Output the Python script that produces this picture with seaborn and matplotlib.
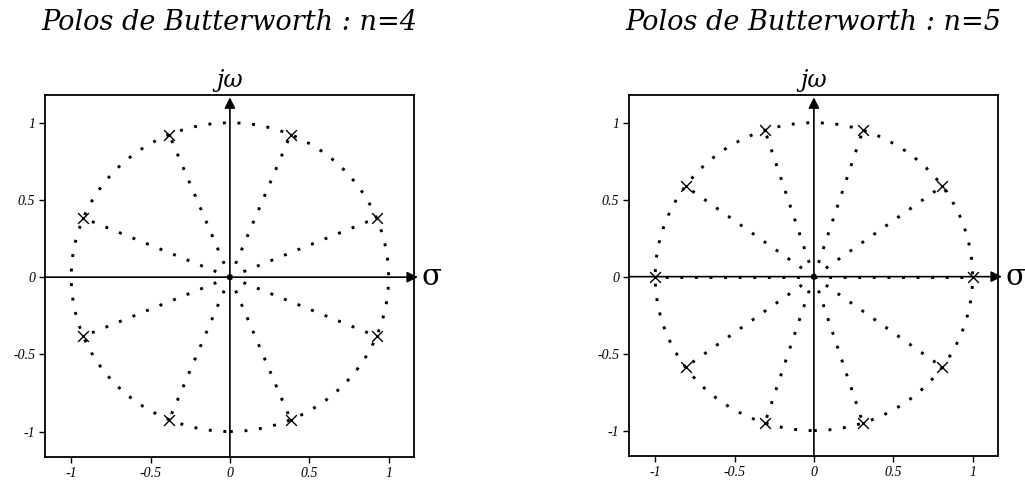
import matplotlib
matplotlib.use("Agg")
import matplotlib.pyplot as plt
from matplotlib.patches import Circle
import numpy as np
import pandas as pd
import seaborn as sns

sns.set_style("white")
plt.rcParams["font.family"] = ["Liberation Serif", "DejaVu Serif"]
plt.rcParams["text.color"] = "black"
plt.rcParams["xtick.color"] = "black"
plt.rcParams["ytick.color"] = "black"

# Pole locations (real part, imaginary part) for each filter order
poles4_re = [0.924, 0.383, -0.383, -0.924, -0.924, -0.383, 0.383, 0.924]
poles4_im = [0.383, 0.924, 0.924, 0.383, -0.383, -0.924, -0.924, -0.383]

poles5_re = [1.0, 0.809, 0.309, -0.309, -0.809, -1.0, -0.809, -0.309, 0.309, 0.809]
poles5_im = [0.0, 0.588, 0.951, 0.951, 0.588, 0.0, -0.588, -0.951, -0.951, -0.588]

titles = ["Polos de Butterworth : n=4", "Polos de Butterworth : n=5"]
tick_vals = [-1, -0.5, 0, 0.5, 1]
tick_labels = ["-1", "-0.5", "0", "0.5", "1"]

DOT = (0, (1, 4))
LW = 2.1
W, H = 1025, 484
fig = plt.figure(figsize=(W / 100, H / 100), dpi=100)

boxes = [(45, 95, 414, 457), (629, 95, 998, 456)]


def rays_frame(re, im):
    rows = []
    for k, (x, y) in enumerate(zip(re, im)):
        rows.append({"re": 0.0, "im": 0.0, "ray": k})
        rows.append({"re": x, "im": y, "ray": k})
    return pd.DataFrame(rows)


for (x0, y0, x1, y1), re, im, title in zip(
        boxes, [poles4_re, poles5_re], [poles4_im, poles5_im], titles):
    ax = fig.add_axes([x0 / W, 1 - y1 / H, (x1 - x0) / W, (y1 - y0) / H])
    ax.set_xlim(-1.165, 1.16)
    ax.set_ylim(-1.165, 1.18)

    # dotted unit circle
    ax.add_patch(Circle((0, 0), 1, fill=False, edgecolor="black",
                        linewidth=LW, linestyle=DOT))

    # dotted rays from the origin to every pole
    rays = rays_frame(re, im)
    sns.lineplot(data=rays, x="re", y="im", units="ray", estimator=None,
                 sort=False, color="black", linewidth=LW, linestyle=DOT,
                 ax=ax, legend=False)

    # poles
    poles = pd.DataFrame({"re": re, "im": im})
    sns.scatterplot(data=poles, x="re", y="im", marker="x", s=60,
                    color="black", linewidth=1.0, ax=ax, legend=False, zorder=5)

    # real and imaginary axes with arrow heads
    ax.annotate("", xy=(1.185, 0), xytext=(-1.165, 0),
                arrowprops=dict(arrowstyle="-|>", color="black", lw=1.2,
                                mutation_scale=16, shrinkA=0, shrinkB=0),
                annotation_clip=False)
    ax.annotate("", xy=(0, 1.165), xytext=(0, -1.165),
                arrowprops=dict(arrowstyle="-|>", color="black", lw=1.2,
                                mutation_scale=16, shrinkA=0, shrinkB=0),
                annotation_clip=False)
    ax.text(1.205, 0.0, "σ", fontsize=21, va="center", ha="left",
            family=["DejaVu Serif"])
    ax.text(0.0, 1.2, "jω", fontsize=17, style="italic", va="bottom",
            ha="center", family=["DejaVu Serif"])

    ax.set_xticks(tick_vals)
    ax.set_xticklabels(tick_labels)
    ax.set_yticks(tick_vals)
    ax.set_yticklabels(tick_labels)
    ax.tick_params(direction="out", length=4, width=1.0, labelsize=10,
                   bottom=True, left=True, pad=3, colors="black")
    for lab in ax.get_xticklabels() + ax.get_yticklabels():
        lab.set_fontstyle("italic")
    ax.set_xlabel("")
    ax.set_ylabel("")
    for sp in ax.spines.values():
        sp.set_visible(True)
        sp.set_color("black")
        sp.set_linewidth(1.3)

    fig.text((x0 + x1) / 2 / W, 1 - 22 / H, title, fontsize=19.5,
             style="italic", ha="center", va="center", color="black",
             family=["DejaVu Serif"])

fig.savefig("out.png", dpi=100, facecolor="white")
